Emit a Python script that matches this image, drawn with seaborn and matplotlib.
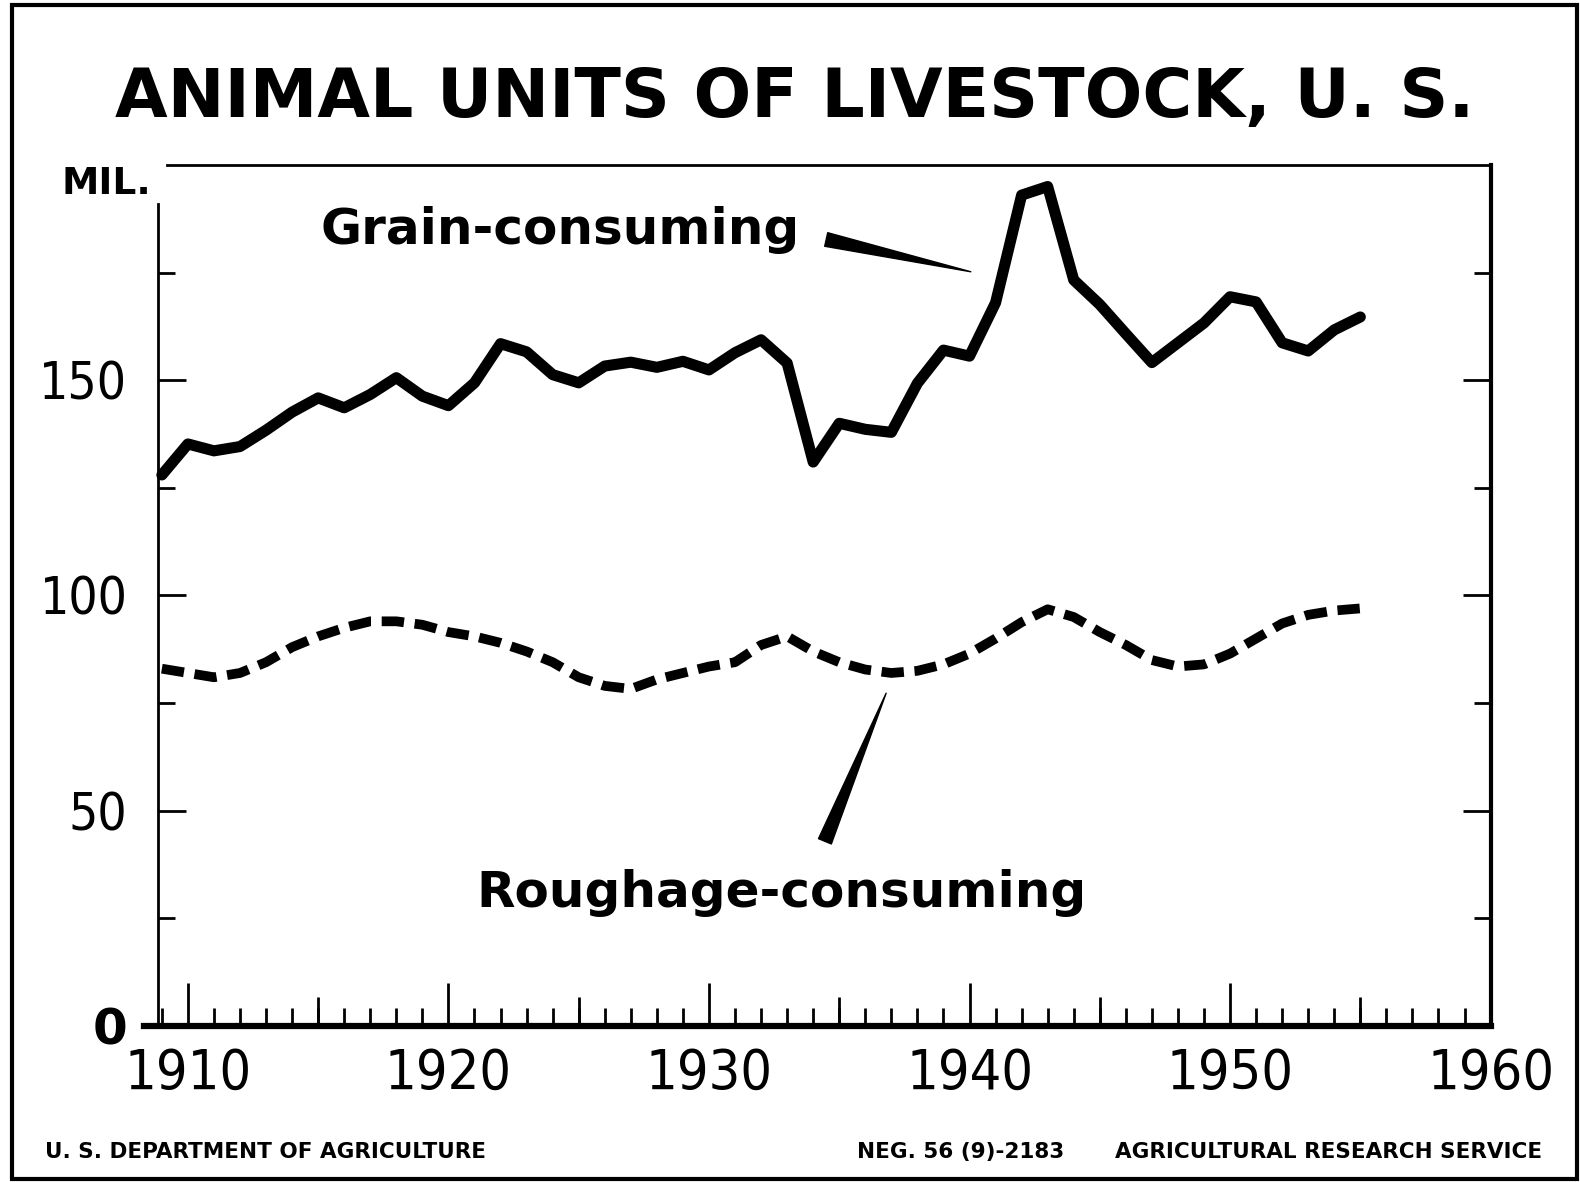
import pandas as pd
import matplotlib.pyplot as plt
import matplotlib.ticker as mticker
from matplotlib.patches import Rectangle
import seaborn as sns

# Animal units, millions
years = list(range(1909, 1956))
grain = [128.0, 135.2, 133.6, 134.6, 138.4, 142.6, 145.9, 143.6, 146.7, 150.6,
         146.3, 144.1, 149.4, 158.5, 156.6, 151.3, 149.4, 153.3, 154.2, 153.0,
         154.4, 152.4, 156.4, 159.4, 154.0, 131.0, 140.0, 138.6, 137.9, 149.3,
         157.0, 155.6, 168.0, 193.0, 195.0, 173.3, 167.6, 160.8, 154.1, 158.7,
         163.3, 169.4, 168.2, 158.7, 156.8, 161.7, 164.7]
roughage = [83.0, 82.0, 81.0, 82.0, 84.5, 88.0, 90.5, 92.5, 94.0, 94.0,
            93.2, 91.5, 90.5, 89.0, 87.0, 84.5, 81.0, 79.0, 78.3, 80.5,
            82.0, 83.5, 84.5, 88.5, 90.5, 87.0, 84.5, 82.8, 82.0, 82.5,
            84.0, 86.5, 90.0, 93.8, 96.8, 95.0, 91.5, 88.5, 85.0, 83.5,
            84.0, 86.5, 90.0, 93.5, 95.5, 96.5, 97.0]

x_major = [1910, 1920, 1930, 1940, 1950, 1960]
x_mid = [1915, 1925, 1935, 1945, 1955]
y_major = [0, 50, 100, 150]
y_minor = [25, 75, 125, 175]

sns.set_style('white')
plt.rcParams['font.family'] = ['DejaVu Sans']
plt.rcParams['text.color'] = 'black'
plt.rcParams['xtick.color'] = 'black'
plt.rcParams['ytick.color'] = 'black'

df = pd.DataFrame({'year': years, 'grain': grain, 'roughage': roughage})

fig = plt.figure(figsize=(15.8, 11.82), dpi=100)
ax = fig.add_axes([0.0909, 0.132, 0.8525, 0.7284])

sns.lineplot(data=df, x='year', y='grain', color='black', linewidth=8, ax=ax)
sns.lineplot(data=df, x='year', y='roughage', color='black', linewidth=7,
             linestyle=(0, (2.3, 1.1)), ax=ax)

ax.set_xlim(1908.3, 1960)
ax.set_ylim(0, 200)
ax.set_xlabel('')
ax.set_ylabel('')

# frame
for s in ax.spines.values():
    s.set_color('black')
ax.spines['left'].set_position(('data', 1908.85))
ax.spines['left'].set_bounds(0, 191)
ax.spines['left'].set_linewidth(2)
ax.spines['top'].set_bounds(1909.2, 1960)
ax.spines['top'].set_linewidth(2)
ax.spines['right'].set_linewidth(3)
ax.spines['bottom'].set_linewidth(4.5)

# x ticks
ax.set_xticks(x_major)
ax.set_xticklabels([str(v) for v in x_major], fontsize=40, fontstretch='condensed')
ax.xaxis.set_minor_locator(mticker.MultipleLocator(1))
ax.tick_params(axis='x', which='major', direction='in', length=31, width=2,
               pad=15, bottom=True, top=False)
ax.tick_params(axis='x', which='minor', direction='in', length=13, width=2,
               bottom=True, top=False)
sec = ax.secondary_xaxis('bottom')
sec.set_xticks(x_mid)
sec.set_xticklabels([])
sec.tick_params(direction='in', length=21, width=2, color='black')
sec.spines['bottom'].set_visible(False)

# y ticks
ax.set_yticks(y_major)
ax.set_yticklabels([str(v) for v in y_major], fontsize=37, fontstretch='condensed')
ax.yaxis.set_minor_locator(mticker.FixedLocator(y_minor))
ax.tick_params(axis='y', which='major', direction='in', length=20, width=2,
               pad=22, left=True, right=True)
ax.tick_params(axis='y', which='minor', direction='in', length=12, width=2,
               left=True, right=True)
zero = ax.get_yticklabels()[0]
zero.set_fontstretch('normal')
zero.set_fontweight('bold')
zero.set_fontsize(36)

# labels and pointers
ax.text(1924.3, 185, 'Grain-consuming', fontsize=36, fontweight='bold',
        ha='center', va='center')
ax.text(1932.8, 31, 'Roughage-consuming', fontsize=36, fontweight='bold',
        ha='center', va='center')
ax.annotate('', xy=(1940.05, 175.2), xytext=(1934.5, 182.7),
            arrowprops=dict(arrowstyle='wedge,tail_width=1.0,shrink_factor=0.5',
                            color='black', shrinkA=0, shrinkB=0))
ax.annotate('', xy=(1936.8, 77.3), xytext=(1934.45, 42.9),
            arrowprops=dict(arrowstyle='wedge,tail_width=1.0,shrink_factor=0.5',
                            color='black', shrinkA=0, shrinkB=0))

fig.text(0.503, 0.917, 'ANIMAL UNITS OF LIVESTOCK, U. S.', fontsize=49,
         fontweight='heavy', ha='center', va='center')
fig.text(0.0956, 0.844, 'MIL.', fontsize=27, fontweight='bold', ha='right', va='center')
fig.text(0.0285, 0.0254, 'U. S. DEPARTMENT OF AGRICULTURE', fontsize=15.5,
         fontweight='bold', ha='left', va='center')
fig.text(0.5424, 0.0254, 'NEG. 56 (9)-2183', fontsize=15.5, fontweight='bold',
         ha='left', va='center')
fig.text(0.976, 0.0254, 'AGRICULTURAL RESEARCH SERVICE', fontsize=15.5,
         fontweight='bold', ha='right', va='center')

fig.add_artist(Rectangle((0.0076, 0.0025), 0.9905, 0.9933, transform=fig.transFigure,
                         fill=False, lw=3, ec='black'))

fig.savefig('out.png', dpi=100, facecolor='white')
